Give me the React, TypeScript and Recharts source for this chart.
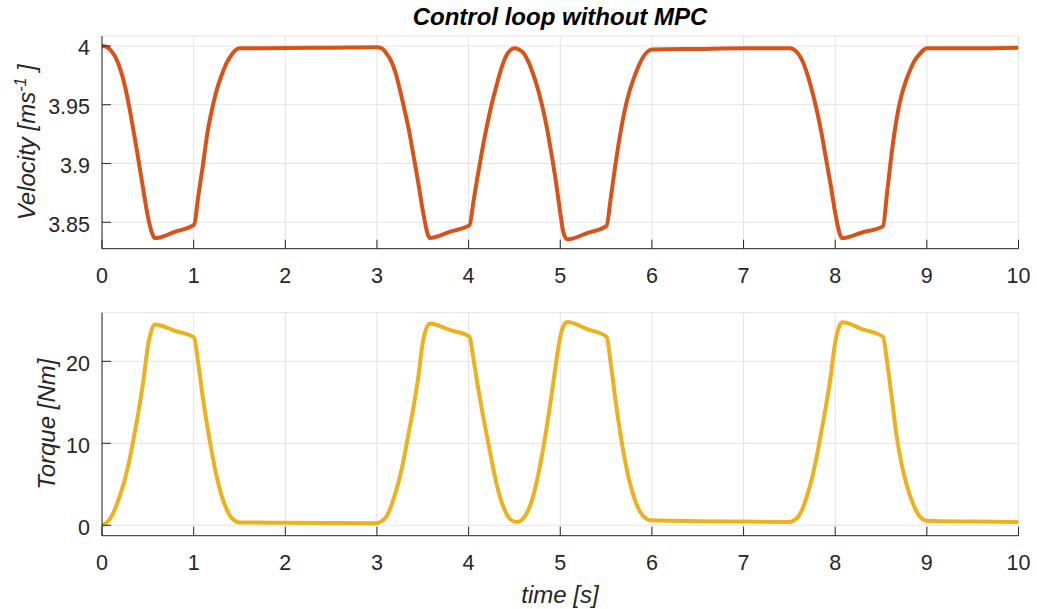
import { LineChart, Line, XAxis, YAxis, CartesianGrid } from 'recharts';

// simulated response of the speed loop, sampled from the logged run
const velocityTime = [
  0, 0.05, 0.1, 0.15, 0.2, 0.25, 0.3, 0.35, 0.4, 0.45, 0.5, 0.55, 0.575,
  0.8, 1.005,
  1.05, 1.1, 1.15, 1.2, 1.25, 1.3, 1.35, 1.4, 1.45, 1.5,
  2.0, 2.5, 3.0,
  3.05, 3.1, 3.15, 3.2, 3.25, 3.3, 3.35, 3.4, 3.45, 3.5, 3.55, 3.575,
  3.8, 4.01,
  4.05, 4.1, 4.15, 4.2, 4.25, 4.3, 4.35, 4.4, 4.45, 4.5, 4.55, 4.6, 4.65, 4.7,
  4.75, 4.8, 4.85, 4.9, 4.95, 5.0, 5.03, 5.06, 5.08,
  5.3, 5.505,
  5.55, 5.6, 5.65, 5.7, 5.75, 5.8, 5.85, 5.9, 5.95, 6.0,
  6.5, 7.0, 7.5,
  7.55, 7.6, 7.65, 7.7, 7.75, 7.8, 7.85, 7.9, 7.95, 8.0, 8.05, 8.075,
  8.3, 8.52,
  8.57, 8.62, 8.67, 8.72, 8.77, 8.82, 8.87, 8.92, 8.97, 9.0,
  9.5, 10,
];
const velocity = [
  4.0, 3.9992, 3.996, 3.99, 3.98, 3.966, 3.947, 3.925, 3.902, 3.878, 3.855, 3.84, 3.8365,
  3.842, 3.848,
  3.872, 3.898, 3.926, 3.946, 3.962, 3.974, 3.984, 3.991, 3.996, 3.998,
  3.9982, 3.9986, 3.999,
  3.998, 3.994, 3.988, 3.978, 3.963, 3.946, 3.928, 3.906, 3.884, 3.86, 3.841, 3.8365,
  3.842, 3.8475,
  3.866, 3.89, 3.912, 3.932, 3.95, 3.965, 3.979, 3.99, 3.996, 3.998, 3.997, 3.994, 3.987, 3.977,
  3.965, 3.95, 3.932, 3.91, 3.886, 3.858, 3.843, 3.8365, 3.8355,
  3.841, 3.847,
  3.87, 3.898, 3.923, 3.944, 3.96, 3.972, 3.982, 3.99, 3.995, 3.997,
  3.9975, 3.998, 3.998,
  3.997, 3.993, 3.986, 3.975, 3.961, 3.945, 3.926, 3.904, 3.882, 3.858, 3.84, 3.8365,
  3.8415, 3.8465,
  3.878, 3.911, 3.938, 3.957, 3.97, 3.98, 3.988, 3.993, 3.997, 3.998,
  3.998, 3.9985,
];

const torqueTime = [
  0, 0.05, 0.1, 0.15, 0.2, 0.25, 0.3, 0.35, 0.4, 0.45, 0.5, 0.55, 0.575,
  0.8, 1.005,
  1.05, 1.1, 1.15, 1.2, 1.25, 1.3, 1.35, 1.4, 1.45, 1.5,
  2.0, 2.5, 3.0,
  3.05, 3.1, 3.15, 3.2, 3.25, 3.3, 3.35, 3.4, 3.45, 3.5, 3.55, 3.575,
  3.8, 4.01,
  4.05, 4.1, 4.15, 4.2, 4.25, 4.3, 4.35, 4.4, 4.45, 4.5, 4.53, 4.56, 4.6, 4.65,
  4.7, 4.75, 4.8, 4.85, 4.9, 4.95, 5.0, 5.05, 5.08,
  5.3, 5.505,
  5.55, 5.6, 5.65, 5.7, 5.75, 5.8, 5.85, 5.9, 5.95, 6.0,
  6.5, 7.0, 7.5,
  7.55, 7.6, 7.65, 7.7, 7.75, 7.8, 7.85, 7.9, 7.95, 8.0, 8.05, 8.075,
  8.3, 8.52,
  8.57, 8.62, 8.67, 8.72, 8.77, 8.82, 8.87, 8.92, 8.97, 9.0,
  9.5, 10,
];
const torque = [
  0.0, 0.3, 1.0, 2.2, 3.8, 5.6, 8.0, 10.9, 14.0, 17.5, 21.8, 24.1, 24.5,
  23.7, 22.9,
  19.8, 15.6, 12.0, 8.8, 6.0, 3.8, 2.2, 1.1, 0.55, 0.35,
  0.3, 0.27, 0.25,
  0.5, 1.0, 2.2, 3.9, 5.9, 8.5, 11.5, 14.5, 18.0, 22.3, 24.3, 24.6,
  23.8, 23.0,
  20.5, 17.0, 13.8, 10.9, 8.0, 5.3, 3.2, 1.7, 0.8, 0.45, 0.4, 0.5, 0.9, 1.8,
  3.4, 5.7, 8.5, 11.8, 15.5, 19.5, 23.0, 24.6, 24.8,
  23.9, 23.0,
  19.8, 15.5, 11.6, 8.3, 5.6, 3.6, 2.1, 1.2, 0.75, 0.6,
  0.5, 0.45, 0.4,
  0.6, 1.1, 2.2, 3.9, 5.9, 8.5, 11.5, 14.6, 18.1, 22.3, 24.4, 24.75,
  23.9, 23.0,
  19.6, 15.3, 10.9, 7.7, 5.3, 3.5, 2.1, 1.1, 0.65, 0.55,
  0.45, 0.4,
];

const timeTicks = [0, 1, 2, 3, 4, 5, 6, 7, 8, 9, 10];
const velocityTicks = [3.85, 3.9, 3.95, 4];
const torqueTicks = [0, 10, 20];

const velocityData = velocityTime.map((t, i) => ({ t, v: velocity[i] }));
const torqueData = torqueTime.map((t, i) => ({ t, v: torque[i] }));

const FONT = '"Liberation Sans", Arial, Helvetica, sans-serif';
const AXIS = '#262626';
const GRID = '#e3e3e3';
const TICK_LEN = 9;
const TICK_FONT = 21.5;
const LABEL_FONT = 24;
const LINE_WIDTH = 4;

// ticks point inwards, labels sit below / left of the axis line
const TimeTick = ({ x, y, payload }: any) => (
  <g>
    <line x1={x} x2={x} y1={y} y2={y - TICK_LEN} stroke={AXIS} />
    <text x={x} y={y + 34} textAnchor="middle" fontSize={TICK_FONT} fill={AXIS} fontFamily={FONT}>
      {payload.value}
    </text>
  </g>
);

const ValueTick = ({ x, y, payload }: any) => (
  <g>
    <line x1={x} x2={x + TICK_LEN} y1={y} y2={y} stroke={AXIS} />
    <text x={x - 12} y={y + 9.5} textAnchor="end" fontSize={TICK_FONT} fill={AXIS} fontFamily={FONT}>
      {payload.value}
    </text>
  </g>
);

const VelocityLabel = () => (
  <g>
    <text
      x={35}
      y={142.3}
      transform="rotate(-90, 35, 142.3)"
      textAnchor="middle"
      fontSize={LABEL_FONT}
      fontStyle="italic"
      fill={AXIS}
      fontFamily={FONT}
    >
      <tspan>Velocity [ms</tspan>
      <tspan dy={-9} fontSize={16}>-1</tspan>
      <tspan dy={9}> ]</tspan>
    </text>
    <text x={560} y={25} textAnchor="middle" fontSize={24} fontWeight="bold" fontStyle="italic" fill="#000" fontFamily={FONT}>
      Control loop without MPC
    </text>
  </g>
);

const TorqueLabel = () => (
  <text
    x={55}
    y={134.2}
    transform="rotate(-90, 55, 134.2)"
    textAnchor="middle"
    fontSize={LABEL_FONT}
    fontStyle="italic"
    fill={AXIS}
    fontFamily={FONT}
  >
    Torque [Nm]
  </text>
);

const TimeLabel = () => (
  <text x={560} y={313.3} textAnchor="middle" fontSize={LABEL_FONT} fontStyle="italic" fill={AXIS} fontFamily={FONT}>
    time [s]
  </text>
);

export default function App() {
  return (
    <div style={{ position: 'absolute', left: 0, top: 0, width: 1037, height: 609, background: '#fff' }}>
      <div style={{ position: 'absolute', left: 0, top: 0 }}>
        <LineChart width={1037} height={290} data={velocityData} margin={{ top: 36, right: 18.5, bottom: 0, left: 0 }}>
          <CartesianGrid stroke={GRID} />
          <XAxis
            type="number"
            dataKey="t"
            domain={[0, 10]}
            ticks={timeTicks}
            interval={0}
            allowDataOverflow
            height={41.3}
            tickSize={0}
            tickMargin={0}
            tickLine={false}
            axisLine={{ stroke: AXIS }}
            tick={<TimeTick />}
          />
          <YAxis
            type="number"
            domain={[3.8275, 4.0085]}
            ticks={velocityTicks}
            interval={0}
            allowDataOverflow
            width={102}
            tickSize={0}
            tickMargin={0}
            tickLine={false}
            axisLine={{ stroke: AXIS }}
            tick={<ValueTick />}
            label={() => <VelocityLabel />}
          />
          <Line type="monotone" dataKey="v" stroke="#D95319" strokeWidth={LINE_WIDTH} dot={false} isAnimationActive={false} />
        </LineChart>
      </div>
      <div style={{ position: 'absolute', left: 0, top: 290 }}>
        <LineChart width={1037} height={319} data={torqueData} margin={{ top: 22.7, right: 18.5, bottom: 0, left: 0 }}>
          <CartesianGrid stroke={GRID} />
          <XAxis
            type="number"
            dataKey="t"
            domain={[0, 10]}
            ticks={timeTicks}
            interval={0}
            allowDataOverflow
            height={73.3}
            tickSize={0}
            tickMargin={0}
            tickLine={false}
            axisLine={{ stroke: AXIS }}
            tick={<TimeTick />}
            label={() => <TimeLabel />}
          />
          <YAxis
            type="number"
            domain={[-1.27, 25.93]}
            ticks={torqueTicks}
            interval={0}
            allowDataOverflow
            width={102}
            tickSize={0}
            tickMargin={0}
            tickLine={false}
            axisLine={{ stroke: AXIS }}
            tick={<ValueTick />}
            label={() => <TorqueLabel />}
          />
          <Line type="monotone" dataKey="v" stroke="#EDB120" strokeWidth={LINE_WIDTH} dot={false} isAnimationActive={false} />
        </LineChart>
      </div>
    </div>
  );
}
